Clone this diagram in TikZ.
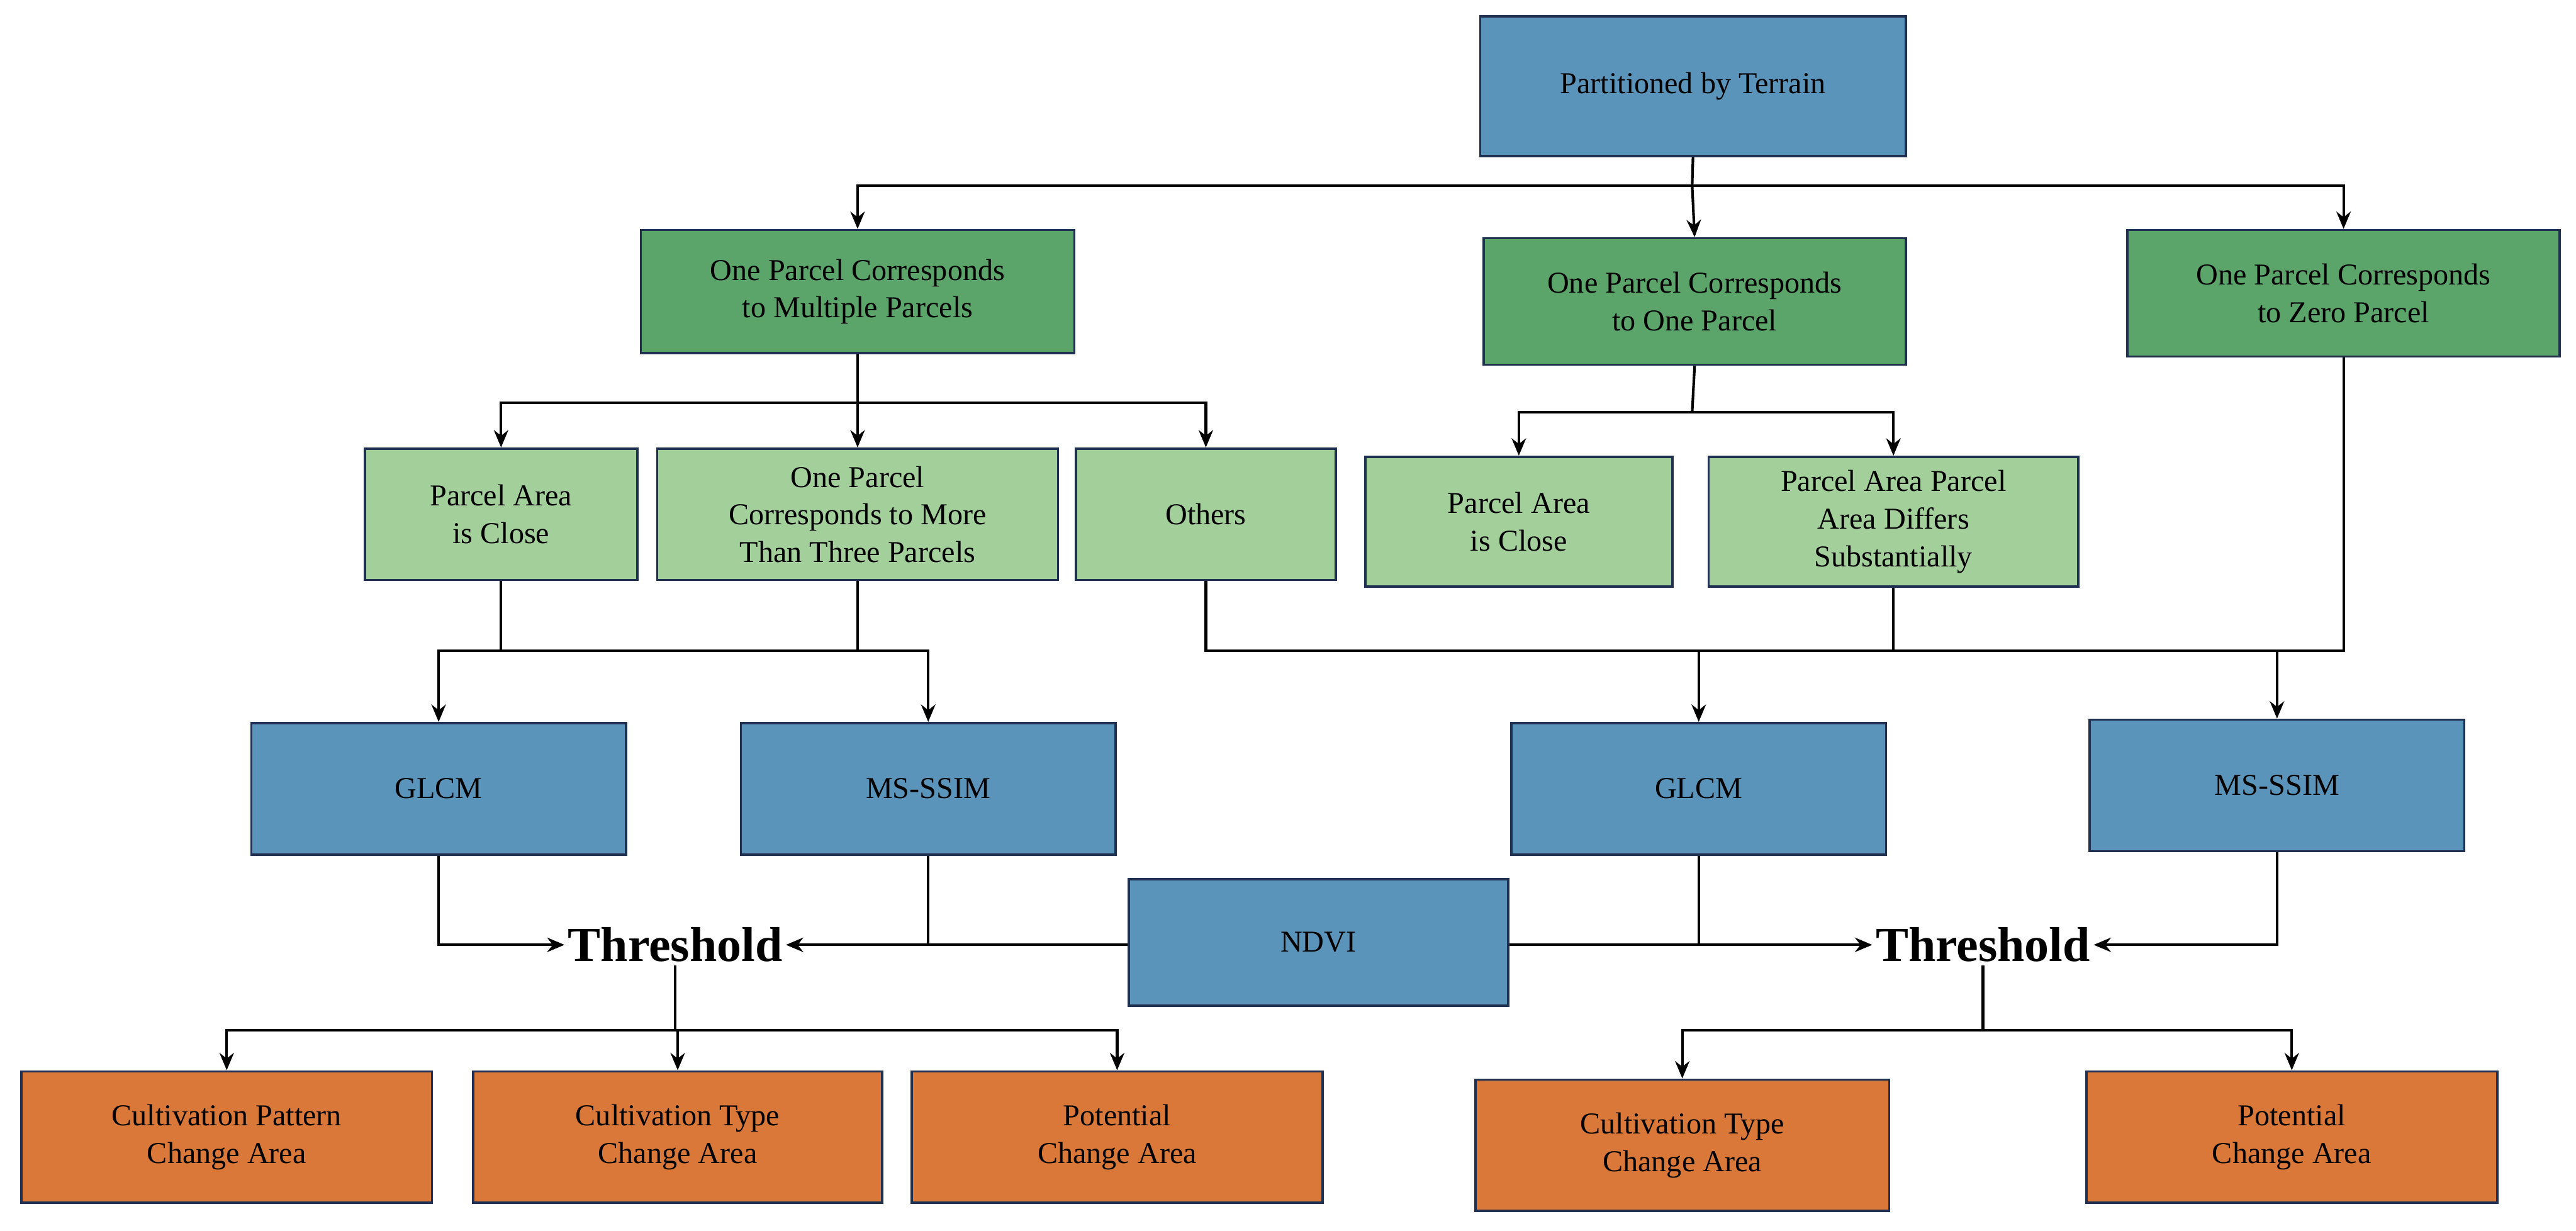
\documentclass[tikz,border=0pt]{standalone}
\usepackage{fontspec}
\setmainfont{Liberation Serif}
\usetikzlibrary{arrows.meta}
\definecolor{cblue}{HTML}{5B94BB}
\definecolor{cdg}{HTML}{5BA46A}
\definecolor{clg}{HTML}{A3CF9B}
\definecolor{cor}{HTML}{D97838}
\definecolor{cbd}{HTML}{1F3050}
\begin{document}
\begin{tikzpicture}[x=0.02cm,y=-0.02cm,
  bx/.style={draw=cbd,line width=0.8pt,align=center,font=\fontsize{10.5}{13}\selectfont,inner sep=2pt},
  ar/.style={draw=black,line width=0.9pt,-{Stealth[length=6pt,width=5pt]}},
  ln/.style={draw=black,line width=0.9pt},
  th/.style={font=\fontsize{17}{20}\selectfont\bfseries,inner sep=1pt}]
\useasboundingbox (0,0) rectangle (1568,749);
\newcommand{\bxat}[6]{\node[bx,fill=#2,minimum width={(#5-#3)*0.02cm},minimum height={(#6-#4)*0.02cm}] (#1) at ({(#3+#5)/2},{(#4+#6)/2}) {#2x};}
% boxes
\node[bx,fill=cblue,minimum width=5.18cm,minimum height=1.7cm] (pt) at (1030.5,52.5) {Partitioned by Terrain};
\node[bx,fill=cdg,minimum width=5.28cm,minimum height=1.5cm] (g1) at (522,177.5) {One Parcel Corresponds\\to Multiple Parcels};
\node[bx,fill=cdg,minimum width=5.14cm,minimum height=1.54cm] (g2) at (1031.5,183.5) {One Parcel Corresponds\\to One Parcel};
\node[bx,fill=cdg,minimum width=5.26cm,minimum height=1.54cm] (g3) at (1426.5,178.5) {One Parcel Corresponds\\to Zero Parcel};
\node[bx,fill=clg,minimum width=3.32cm,minimum height=1.6cm] (l1) at (305,313) {Parcel Area\\is Close};
\node[bx,fill=clg,minimum width=4.88cm,minimum height=1.6cm] (l2) at (522,313) {One Parcel\\Corresponds to More\\Than Three Parcels};
\node[bx,fill=clg,minimum width=3.16cm,minimum height=1.6cm] (l3) at (734,313) {Others};
\node[bx,fill=clg,minimum width=3.74cm,minimum height=1.58cm] (l4) at (924.5,317.5) {Parcel Area\\is Close};
\node[bx,fill=clg,minimum width=4.5cm,minimum height=1.58cm] (l5) at (1152.5,317.5) {Parcel Area Parcel\\Area Differs\\Substantially};
\node[bx,fill=cblue,minimum width=4.56cm,minimum height=1.6cm] (b1) at (267,480) {GLCM};
\node[bx,fill=cblue,minimum width=4.56cm,minimum height=1.6cm] (b2) at (565,480) {MS-SSIM};
\node[bx,fill=cblue,minimum width=4.56cm,minimum height=1.6cm] (b3) at (1034,480) {GLCM};
\node[bx,fill=cblue,minimum width=4.56cm,minimum height=1.6cm] (b4) at (1386,478) {MS-SSIM};
\node[bx,fill=cblue,minimum width=4.62cm,minimum height=1.54cm] (nd) at (802.5,573.5) {NDVI};
\node[th] (t1) at (411,575) {Threshold};
\node[th] (t2) at (1207,575) {Threshold};
\node[bx,fill=cor,minimum width=5cm,minimum height=1.6cm] (o1) at (138,692) {Cultivation Pattern\\Change Area};
\node[bx,fill=cor,minimum width=4.98cm,minimum height=1.6cm] (o2) at (412.5,692) {Cultivation Type\\Change Area};
\node[bx,fill=cor,minimum width=5cm,minimum height=1.6cm] (o3) at (680,692) {Potential\\Change Area};
\node[bx,fill=cor,minimum width=5.04cm,minimum height=1.6cm] (o4) at (1024,697) {Cultivation Type\\Change Area};
\node[bx,fill=cor,minimum width=5cm,minimum height=1.6cm] (o5) at (1395,692) {Potential\\Change Area};
% coordinates
\coordinate (j0) at (1030,113);
\coordinate (j1) at (522,245);
\coordinate (j2) at (1030,251);
\coordinate (j3) at (522,396);
\coordinate (j4) at (1034,396);
% connectors
\draw[ln] (pt.south) -- (j0);
\draw[ar] (j0) -| (g1.north);
\draw[ar] (j0) -- (g2.north);
\draw[ar] (j0) -| (g3.north);
\draw[ln] (g1.south) -- (j1);
\draw[ar] (j1) -| (l1.north);
\draw[ar] (j1) -- (l2.north);
\draw[ar] (j1) -| (l3.north);
\draw[ln] (g2.south) -- (j2);
\draw[ar] (j2) -| (l4.north);
\draw[ar] (j2) -| (l5.north);
\draw[ln] (l1.south) |- (j3);
\draw[ln] (l2.south) -- (j3);
\draw[ar] (j3) -| (b1.north);
\draw[ar] (j3) -| (b2.north);
\draw[ln] (l3.south) |- (j4);
\draw[ln] (l5.south) -- (l5.south |- j4);
\draw[ln] (g3.south) |- (j4);
\draw[ar] (j4) -- (b3.north);
\draw[ar] (b4.north |- j4) -- (b4.north);
\draw[ar] (b1.south) |- (t1.west);
\draw[ar] (b2.south) |- (t1.east);
\draw[ln] (nd.west |- t1.east) -- ++(-125,0);
\draw[ar] (nd.east |- t2.west) -- (t2.west);
\draw[ln] (b3.south) -- (b3.south |- t2.west);
\draw[ar] (b4.south) |- (t2.east);
\coordinate (k1) at (411,627);
\coordinate (k2) at (1207,627);
\draw[ln] (t1.south) -- (k1);
\draw[ar] (k1) -| (o1.north);
\draw[ar] (k1) -| (o2.north);
\draw[ar] (k1) -| (o3.north);
\draw[ln] (t2.south) -- (k2);
\draw[ar] (k2) -| (o4.north);
\draw[ar] (k2) -| (o5.north);
\end{tikzpicture}
\end{document}
